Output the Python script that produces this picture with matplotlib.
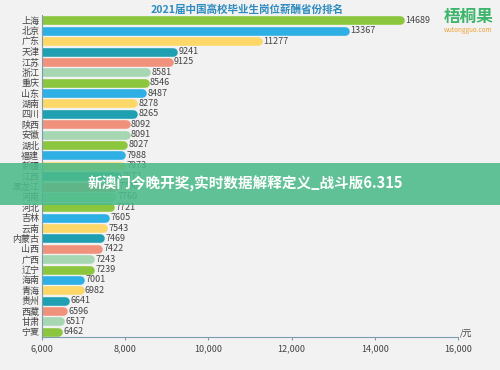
import matplotlib
matplotlib.use("Agg")
import matplotlib.pyplot as plt
from matplotlib.patches import Rectangle

plt.rcParams['font.family'] = ['Noto Sans CJK SC', 'DejaVu Sans']

provinces = ["上海", "北京", "广东", "天津", "江苏", "浙江", "重庆", "山东", "湖南", "四川",
             "陕西", "安徽", "湖北", "福建", "新疆", "江西", "黑龙江", "河南", "河北", "吉林",
             "云南", "内蒙古", "山西", "广西", "辽宁", "海南", "青海", "贵州", "西藏", "甘肃", "宁夏"]
salaries = [14689, 13367, 11277, 9241, 9125, 8581, 8546, 8487, 8278, 8265,
            8092, 8091, 8027, 7988, 7973, 7872, 7790, 7760, 7721, 7605,
            7543, 7469, 7422, 7243, 7239, 7001, 6982, 6641, 6596, 6517, 6462]
palette = ["#8cc63e", "#2fb0e4", "#fdd868", "#1e9fb2", "#f0927b", "#a6d6b2"]
x_ticks = [6000, 8000, 10000, 12000, 14000, 16000]

bg = "#f2f2f2"
fig = plt.figure(figsize=(5, 3.7), dpi=100, facecolor=bg)
ax = fig.add_axes([0.084, 0.089, 0.832, 0.870], facecolor=bg)

ypos = list(range(len(provinces)))
colors = [palette[i % len(palette)] for i in ypos]
ax.hlines(ypos, 6000, [v - 80 for v in salaries], colors=colors, linewidth=6.2,
          capstyle='round')
for y, v in zip(ypos, salaries):
    ax.text(v + 50, y, str(v), va='center', ha='left', fontsize=6.5, color='#444444')

ax.set_xlim(6000, 16000)
ax.set_ylim(len(provinces) - 0.5, -0.5)
ax.set_yticks(ypos)
ax.set_yticklabels(provinces, fontsize=6.5, color='#444444')
ax.set_xticks(x_ticks)
ax.set_xticklabels([f"{t:,}" for t in x_ticks], fontsize=6.5, color='#444444')
ax.tick_params(axis='y', length=0, pad=2)
ax.tick_params(axis='x', length=2, color='#7a9cb0', pad=3)
for s in ['top', 'right']:
    ax.spines[s].set_visible(False)
ax.spines['left'].set_color('#7a9cb0')
ax.spines['bottom'].set_color('#7a9cb0')
ax.spines['left'].set_linewidth(0.8)
ax.spines['bottom'].set_linewidth(0.8)
ax.text(1.005, 0.0, "/元", transform=ax.transAxes, fontsize=6.5, color='#444444',
        va='bottom', ha='left')

fig.text(0.494, 0.973, "2021届中国高校毕业生岗位薪酬省份排名", ha='center', va='center',
         fontsize=7.6, fontweight='bold', color='#2e8bc0')
fig.text(0.937, 0.955, "梧桐果", ha='center', va='center', fontsize=12,
         fontweight='bold', color='#3db56a')
fig.text(0.937, 0.918, "wutongguo.com", ha='center', va='center', fontsize=4.5,
         color='#f0a030')

# banner overlay
fig.patches.append(Rectangle((0, 0.446), 1, 0.1135, transform=fig.transFigure,
                             facecolor='#4cbb8a', alpha=0.88, edgecolor='none', zorder=5))
fig.text(0.176, 0.503, "新澳门今晚开奖,实时数据解释定义_战斗版6.315", ha='left', va='center',
         fontsize=10.5, fontweight='bold', color='white', zorder=6)

fig.savefig("out.png", dpi=100, facecolor=bg)
